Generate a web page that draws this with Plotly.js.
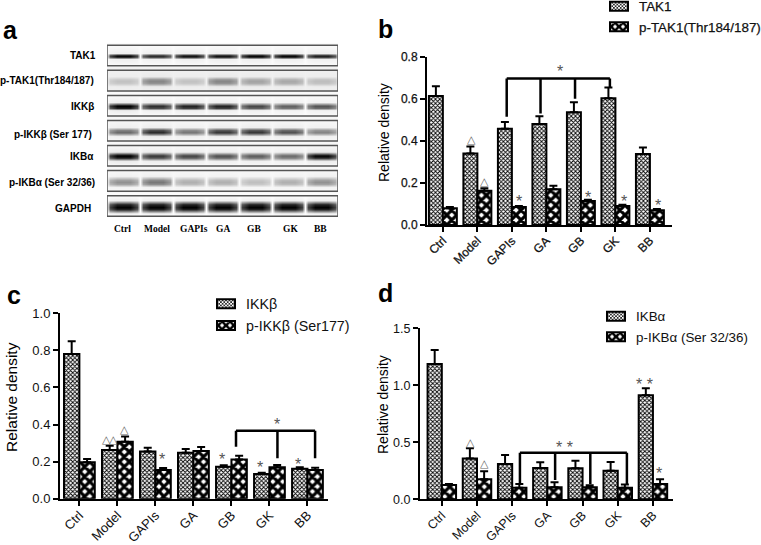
<!DOCTYPE html>
<html><head><meta charset="utf-8">
<script src="https://cdn.plot.ly/plotly-3.0.1.min.js"></script>
<style>html,body{margin:0;padding:0;background:#fff}
.xtick text,.ytick text,.legendtext{stroke:#111;stroke-width:0.25px}</style></head>
<body><div id="gd" style="width:761px;height:545px"></div>
<script>
const categories = ['Ctrl','Model','GAPIs','GA','GB','GK','BB'];

// Panel b
const tak1      = [0.613,0.340,0.457,0.480,0.536,0.602,0.338];
const tak1Err   = [0.047,0.033,0.033,0.037,0.047,0.052,0.030];
const pTak1     = [0.080,0.163,0.085,0.170,0.114,0.090,0.070];
const pTak1Err  = [0.005,0.012,0.005,0.017,0.006,0.006,0.006];
// Panel c
const ikkb      = [0.780,0.263,0.255,0.248,0.172,0.133,0.162];
const ikkbErr   = [0.069,0.023,0.020,0.020,0.008,0.007,0.007];
const pIkkb     = [0.196,0.307,0.155,0.257,0.212,0.169,0.155];
const pIkkbErr  = [0.018,0.029,0.010,0.022,0.020,0.013,0.012];
// Panel d
const ikba      = [1.187,0.357,0.310,0.275,0.272,0.250,0.912];
const ikbaErr   = [0.123,0.090,0.079,0.050,0.067,0.077,0.062];
const pIkba     = [0.126,0.175,0.102,0.105,0.105,0.102,0.134];
const pIkbaErr  = [0.008,0.071,0.032,0.044,0.018,0.027,0.041];

// Panel a: band strength by lane (0 = white, 1 = black)
const blotLabels = ['TAK1','p-TAK1(Thr184/187)','IKKβ','p-IKKβ (Ser 177)','IKBα','p-IKBα (Ser 32/36)','GAPDH'];
const blotBands = [
  [0.95,0.80,0.90,0.90,0.95,0.95,0.85],
  [0.18,0.42,0.18,0.42,0.30,0.28,0.20],
  [1.00,0.80,0.85,0.85,0.70,0.60,0.65],
  [0.55,0.80,0.50,0.75,0.75,0.65,0.45],
  [1.00,0.75,0.70,0.65,0.60,0.55,0.95],
  [0.40,0.50,0.28,0.28,0.22,0.28,0.40],
  [1.00,1.00,1.00,1.00,1.00,1.00,1.00]
];
const blotBack  = [0.02,0.06,0.02,0.03,0.03,0.03,0.01];
const blotThick = [0.07,0.12,0.10,0.11,0.12,0.14,0.16];
const blotOffs  = [0.02,0.03,0.02,0.04,0.01,0.03,0.04];
const laneLabels = ['Ctrl','Model','GAPIs','GA','GB','GK','BB'];
const laneLabelPx = [122,157,194,223,254,290,320];
const blotLabelRightPx = [98,96,96,94,96,97,93];
const blotLabelYPx = [55,80,106,134,156,182,209];

// Marks above bars: [x, y, text]
const marksB = [[0.82,0.405,'△'],[1.22,0.207,'△'],[3.39,0.745,'*'],[2.22,0.125,'*'],[4.22,0.146,'*'],[5.25,0.125,'*'],[6.23,0.106,'*']];
const marksC = [[0.70,0.320,'△'],[0.89,0.320,'△'],[1.18,0.374,'△'],[5.19,0.418,'*'],[2.18,0.229,'*'],[3.76,0.229,'*'],[4.76,0.182,'*'],[5.76,0.202,'*']];
const marksD = [[0.82,0.500,'△'],[1.20,0.316,'△'],[3.50,0.480,'* *'],[5.77,1.035,'* *'],[6.17,0.255,'*']];
// Brackets: bar height, x of each drop, y where each drop ends
const bracketB = {top:0.696, xs:[1.85,2.83,3.83,4.84], ends:[0.515,0.530,0.600,0.654]};
const bracketC = {top:0.367, xs:[4.12,5.21,6.20], ends:[0.280,0.218,0.218]};
const bracketD = {top:0.409, xs:[2.22,3.22,4.22,5.26], ends:[0.134,0.170,0.134,0.134]};

const W = 761, H = 545;
const fx = p => p / W, fy = p => 1 - p / H;
const FONT = 'Liberation Sans, Arial, sans-serif';

const fine   = {shape:'x', fgcolor:'#000', bgcolor:'#fff', size:3, solidity:0.5};
const coarse = {shape:'x', fgcolor:'#000', bgcolor:'#fff', size:7, solidity:0.7};

function barTrace(name, vals, errs, pat, xa, ya, legend){
  return {type:'bar', name, x:categories, y:vals, xaxis:xa, yaxis:ya, legend,
    marker:{color:'#fff', line:{color:'#000',width:2}, pattern:pat},
    error_y:{type:'data', symmetric:false, array:errs, arrayminus:errs.map(()=>0), color:'#000', thickness:2, width:4},
    hoverinfo:'skip'};
}

const data = [
  barTrace('TAK1', tak1, tak1Err, fine, 'x','y','legend'),
  barTrace('p-TAK1(Thr184/187)', pTak1, pTak1Err, coarse, 'x','y','legend'),
  barTrace('IKKβ', ikkb, ikkbErr, fine, 'x2','y2','legend2'),
  barTrace('p-IKKβ (Ser177)', pIkkb, pIkkbErr, coarse, 'x2','y2','legend2'),
  barTrace('IKBα', ikba, ikbaErr, fine, 'x3','y3','legend3'),
  barTrace('p-IKBα (Ser 32/36)', pIkba, pIkbaErr, coarse, 'x3','y3','legend3')
];

// Blots as smoothed heatmaps on a lane/row axis
const shapes = [];
blotBands.forEach((bands,r)=>{
  const xs=[], col=[];
  bands.forEach((s,i)=>{
    [[-0.5,0],[-0.42,0.75],[-0.2,1],[0,1],[0.2,1],[0.42,0.75]].forEach(([d,k])=>{xs.push(i+0.5+d);col.push(s*k);});
  });
  xs.push(7); col.push(0);
  const t = blotThick[r], c = r+0.5+blotOffs[r];
  const ys = [r+0.09, c-t*1.6, c-t*0.6, c, c+t*0.6, c+t*1.6, r+0.91];
  const prof = [0,0.05,0.85,1,0.85,0.05,0];
  const z = ys.map((_,j)=>col.map(v=>Math.min(1,blotBack[r]+v*prof[j])));
  data.push({type:'heatmap', x:xs, y:ys, z, xaxis:'x4', yaxis:'y4', zmin:0, zmax:1, zsmooth:'best',
    colorscale:[[0,'#fff'],[1,'#000']], showscale:false, hoverinfo:'skip', showlegend:false});
  shapes.push({type:'rect', xref:'x4', yref:'y4', x0:0, x1:7, y0:r+0.09, y1:r+0.91, line:{color:'#555',width:1.5}, fillcolor:'rgba(0,0,0,0)'});
});

function addBracket(b, xa, ya){
  const line = {color:'#000', width:2.5};
  const base = {type:'line', xref:xa, yref:ya, line};
  shapes.push({...base, x0:b.xs[0], x1:b.xs[b.xs.length-1], y0:b.top, y1:b.top});
  b.xs.forEach((x,i)=>shapes.push({...base, x0:x, x1:x, y0:b.top, y1:b.ends[i]}));
}
addBracket(bracketB,'x','y'); addBracket(bracketC,'x2','y2'); addBracket(bracketD,'x3','y3');

const annotations = [];
function text(t, px, py, size, opt){
  annotations.push(Object.assign({text:t, xref:'paper', yref:'paper', x:fx(px), y:fy(py), showarrow:false,
    xanchor:'center', yanchor:'middle', font:{family:FONT,size,color:'#000'}}, opt||{}));
}
[['a',10,30],['b',385,29],['c',14,295],['d',385,293]].forEach(([t,x,y])=>text('<b>'+t+'</b>',x,y,25));
text('Relative density',384,132,14,{textangle:-90});
text('Relative density',11,397,15.5,{textangle:-90});
text('Relative density',383,405,14,{textangle:-90});
blotLabels.forEach((t,i)=>text('<b>'+t+'</b>',blotLabelRightPx[i],blotLabelYPx[i],10,{xanchor:'right'}));
laneLabels.forEach((t,i)=>text('<b>'+t+'</b>',laneLabelPx[i],229,9.5,{font:{family:'Liberation Serif, Times New Roman, serif',size:9.5,color:'#000'}}));
function addMarks(ms, xa, ya){
  ms.forEach(([x,y,t])=>{
    const tri = t==='△';
    annotations.push({text:t, xref:xa, yref:ya, x, y, showarrow:false, xanchor:'center', yanchor:'middle',
      yshift: tri?0:-3,
      font:{family: tri?'DejaVu Sans':FONT, size: tri?11:16, color: tri?'#666':'#555'}});
  });
}
addMarks(marksB,'x','y'); addMarks(marksC,'x2','y2'); addMarks(marksD,'x3','y3');

function xAxis(left,right,range,anchor,size){
  return {domain:[fx(left),fx(right)], range, anchor, type:'category', categoryorder:'array', categoryarray:categories,
    showline:true, linecolor:'#000', linewidth:2, ticks:'outside', ticklen:5, tickwidth:2, tickcolor:'#000', ticklabelstandoff:-3,
    tickangle:-45, showgrid:false, zeroline:false, fixedrange:true, tickfont:{family:FONT,size,color:'#111'}};
}
function yAxis(top,bottom,range,tickvals,anchor,size){
  return {domain:[fy(bottom),fy(top)], range, anchor, tickvals, ticktext:tickvals.map(v=>v.toFixed(1)),
    showline:true, linecolor:'#000', linewidth:2, ticks:'outside', ticklen:5, tickwidth:2, tickcolor:'#000',
    showgrid:false, zeroline:false, fixedrange:true, tickfont:{family:FONT,size,color:'#111'}};
}
function legendAt(px,py,size){
  return {x:fx(px), y:fy(py), xanchor:'left', yanchor:'top', bgcolor:'rgba(0,0,0,0)', font:{family:FONT,size,color:'#111'},
    traceorder:'normal', itemclick:false, itemdoubleclick:false};
}

const layout = {
  width:W, height:H, margin:{l:0,r:0,t:0,b:0,autoexpand:false}, paper_bgcolor:'#fff', plot_bgcolor:'rgba(0,0,0,0)',
  barmode:'group', bargap:0.19, bargroupgap:0, showlegend:true,
  xaxis: xAxis(427,672,[-0.46,6.64],'y',12),
  yaxis: yAxis(56.7,225,[0,0.8],[0,0.2,0.4,0.6,0.8],'x',12),
  xaxis2: xAxis(60,328,[-0.51,6.54],'y2',13),
  yaxis2: yAxis(313.3,498.7,[0,1],[0,0.2,0.4,0.6,0.8,1],'x2',13),
  xaxis3: xAxis(420,673,[-0.62,6.57],'y3',12.5),
  yaxis3: yAxis(328.3,499.3,[0,1.5],[0,0.5,1,1.5],'x3',12.5),
  xaxis4: {domain:[fx(107),fx(338)], range:[0,7], anchor:'y4', visible:false, fixedrange:true},
  yaxis4: {domain:[fy(218.5),fy(43)], range:[7,0], anchor:'x4', visible:false, fixedrange:true},
  legend: legendAt(599,-9,13.4),
  legend2: legendAt(206,288,14.3),
  legend3: legendAt(596,301,13.4),
  shapes, annotations
};

Plotly.newPlot('gd', data, layout, {staticPlot:true, displayModeBar:false}).then(gd=>{
  gd.querySelectorAll('.legendpoints path').forEach(p=>p.setAttribute('d','M9,4.5H-9V-4.5H9z'));
});
</script></body></html>
